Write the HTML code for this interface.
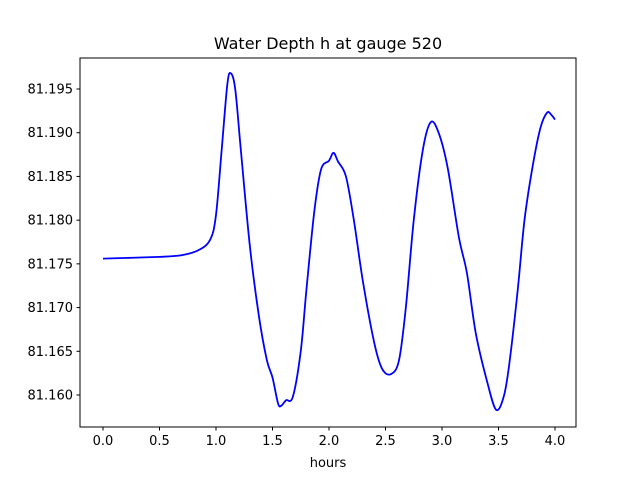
<!DOCTYPE html>
<html><head><meta charset="utf-8"><style>
body{margin:0;background:#fff;}
svg{display:block;font-family:"DejaVu Sans","Liberation Sans",sans-serif;}
</style></head><body>
<svg id="chart" width="640" height="480">
<rect width="640" height="480" fill="#fff"/>
<text x="328" y="49" text-anchor="middle" font-size="16">Water Depth h at gauge 520</text>
<rect x="80" y="58" width="496" height="369" fill="none" stroke="#000" stroke-width="1"/>
<g id="xt"></g>
<g id="yt"></g>
<text x="328" y="467" text-anchor="middle" font-size="13">hours</text>
<path id="line" fill="none" stroke="#0000ff" stroke-width="1.8"/>
</svg>
<script>
const times=[0,0.5,0.7,0.85,0.95,1.0,1.05,1.1,1.13,1.17,1.22,1.3,1.38,1.45,1.5,1.55,1.58,1.62,1.68,1.75,1.8,1.87,1.93,2.0,2.04,2.08,2.15,2.22,2.3,2.4,2.47,2.55,2.62,2.68,2.75,2.83,2.9,2.97,3.05,3.15,3.22,3.3,3.4,3.48,3.55,3.6,3.67,3.73,3.8,3.87,3.93,3.97,4.0];
const depths=[81.1756,81.1758,81.1760,81.1766,81.1778,81.1806,81.188,81.1955,81.1968,81.195,81.188,81.177,81.169,81.164,81.162,81.159,81.1588,81.1594,81.1598,81.165,81.172,81.181,81.1858,81.1868,81.1877,81.1867,81.185,81.180,81.173,81.166,81.163,81.1624,81.164,81.170,81.180,81.188,81.1912,81.190,81.186,81.178,81.174,81.167,81.1615,81.1583,81.160,81.164,81.172,81.180,81.186,81.1905,81.1923,81.192,81.1915];
const xTicks=["0.0","0.5","1.0","1.5","2.0","2.5","3.0","3.5","4.0"];
const yTicks=["81.160","81.165","81.170","81.175","81.180","81.185","81.190","81.195"];
const NS="http://www.w3.org/2000/svg";
const X=t=>103+t*113;
const Y=v=>89+(81.195-v)*8743;
function mk(tag,attrs,parent){const e=document.createElementNS(NS,tag);for(const k in attrs)e.setAttribute(k,attrs[k]);parent.appendChild(e);return e;}
const xg=document.getElementById('xt'),yg=document.getElementById('yt');
xTicks.forEach(s=>{const x=X(parseFloat(s));
const l=mk('line',{x1:x,x2:x,y1:427,y2:430.5,stroke:'#000'},xg);


const t=mk('text',{x:x,y:445,'text-anchor':'middle','font-size':'13'},xg);t.textContent=s;

});
yTicks.forEach(s=>{const y=Y(parseFloat(s));
const l=mk('line',{x1:76.5,x2:80,y1:y,y2:y,stroke:'#000'},yg);


const t=mk('text',{x:73,y:y+4.5,'text-anchor':'end','font-size':'13'},yg);t.textContent=s;

});
const P=times.map((t,i)=>[X(t),Y(depths[i])]);
let d='M'+P[0][0]+','+P[0][1];
for(let i=0;i<P.length-1;i++){const p0=P[Math.max(i-1,0)],p1=P[i],p2=P[i+1],p3=P[Math.min(i+2,P.length-1)];
d+=' C'+(p1[0]+(p2[0]-p0[0])/6)+','+(p1[1]+(p2[1]-p0[1])/6)+' '+(p2[0]-(p3[0]-p1[0])/6)+','+(p2[1]-(p3[1]-p1[1])/6)+' '+p2[0]+','+p2[1];}
document.getElementById('line').setAttribute('d',d);
</script>
</body></html>
